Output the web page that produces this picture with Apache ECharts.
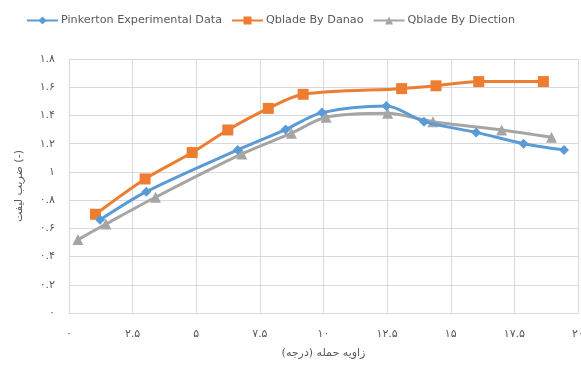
<!DOCTYPE html>
<html>
<head>
<meta charset="utf-8">
<script src="https://cdn.jsdelivr.net/npm/echarts@6/dist/echarts.min.js"></script>
<style>html,body{margin:0;padding:0;background:#fff}#c{width:581px;height:378px}</style>
</head>
<body>
<div id="c"></div>
<script>
var seriesNames = ['Pinkerton Experimental Data', 'Qblade By Danao', 'Qblade By Diection'];
var pinkertonX = [1.22, 3.04, 6.63, 8.51, 9.94, 12.47, 13.95, 16.0, 17.86, 19.45];
var pinkertonY = [0.66, 0.86, 1.156, 1.30, 1.42, 1.467, 1.356, 1.28, 1.20, 1.156];
var danaoX = [1.04, 2.99, 4.84, 6.24, 7.83, 9.2, 13.07, 14.42, 16.1, 18.64];
var danaoY = [0.70, 0.95, 1.137, 1.297, 1.45, 1.55, 1.59, 1.61, 1.64, 1.64];
var diectionX = [0.35, 1.45, 3.4, 6.79, 8.74, 10.1, 12.52, 14.3, 17.0, 18.96];
var diectionY = [0.52, 0.63, 0.82, 1.127, 1.274, 1.387, 1.415, 1.356, 1.297, 1.245];
var xTicks = {min: 0, max: 20, interval: 2.5};
var yTicks = {min: 0, max: 1.8, interval: 0.2};
var xTitle = '\u200Fزاویه حمله (درجه)\u200F';
var yTitle = 'ضریب لیفت (-)';

function fa(v) {
  var s = String(Number(Number(v).toFixed(3)));
  return s.replace(/\d/g, function (d) { return '۰۱۲۳۴۵۶۷۸۹'[+d]; });
}
function pairs(xs, ys) { return xs.map(function (x, i) { return [x, ys[i]]; }); }

var colors = ['#5B9BD5', '#ED7D31', '#A5A5A5'];
var symbols = ['diamond', 'rect', 'triangle'];
var symSizes = [10, 11, 11];
var datas = [pairs(pinkertonX, pinkertonY), pairs(danaoX, danaoY), pairs(diectionX, diectionY)];
var grayText = '#595959';
var gridColor = '#D9D9D9';

var chart = echarts.init(document.getElementById('c'), null, {renderer: 'canvas'});
chart.setOption({
  animation: false,
  backgroundColor: '#fff',
  textStyle: {fontFamily: 'DejaVu Sans'},
  legend: {
    top: 10, left: 21,
    itemWidth: 31, itemHeight: 10, itemGap: 9,
    textStyle: {color: grayText, fontSize: 11.2, fontFamily: 'DejaVu Sans', padding: [0, 0, 0, -2]},
    data: seriesNames
  },
  grid: {left: 69, right: 3, top: 59, bottom: 65, containLabel: false, outerBoundsMode: 'none'},
  xAxis: {
    type: 'value', min: xTicks.min, max: xTicks.max, interval: xTicks.interval,
    name: xTitle, nameLocation: 'middle', nameGap: 35,
    nameTextStyle: {color: grayText, fontSize: 11, fontFamily: 'DejaVu Sans'},
    axisLine: {show: true, lineStyle: {color: gridColor, width: 1}},
    axisTick: {show: false},
    axisLabel: {color: grayText, fontSize: 11, margin: 16, formatter: fa},
    splitLine: {show: true, lineStyle: {color: gridColor, width: 1}}
  },
  yAxis: {
    type: 'value', min: yTicks.min, max: yTicks.max, interval: yTicks.interval,
    name: yTitle, nameLocation: 'middle', nameGap: 44,
    nameTextStyle: {color: grayText, fontSize: 11, fontFamily: 'DejaVu Sans'},
    axisLine: {show: true, lineStyle: {color: gridColor, width: 1}},
    axisTick: {show: false},
    axisLabel: {color: grayText, fontSize: 11, margin: 14, formatter: fa},
    splitLine: {show: true, lineStyle: {color: gridColor, width: 1}}
  },
  series: seriesNames.map(function (n, i) {
    return {
      name: n, type: 'line', data: datas[i], smooth: 0.3,
      symbol: symbols[i], symbolSize: symSizes[i], showSymbol: true,
      lineStyle: {color: colors[i], width: 3},
      itemStyle: {color: colors[i], borderWidth: 0},
      z: 3 - i
    };
  })
});
</script>
</body>
</html>
